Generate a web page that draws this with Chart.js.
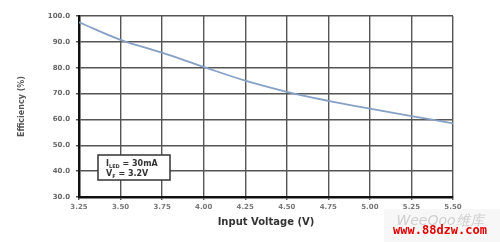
<!DOCTYPE html>
<html>
<head>
<meta charset="utf-8">
<script src="https://cdn.jsdelivr.net/npm/chart.js@4/dist/chart.umd.min.js"></script>
<style>
  html, body { margin: 0; padding: 0; background: #fff; }
  #wrap { width: 500px; height: 242px; }
</style>
</head>
<body>
<div id="wrap"><canvas id="myChart" width="500" height="242"></canvas></div>
<script>
// values
var voltage = [3.25, 3.50, 3.75, 4.00, 4.25, 4.50, 4.75, 5.00, 5.25, 5.50];
var efficiency = [97.6, 90.8, 85.8, 80.3, 75.0, 70.7, 67.2, 64.2, 61.3, 58.5];
var yTicks = [30, 40, 50, 60, 70, 80, 90, 100];
var noteLines = [["I", "LED", " = 30mA"], ["V", "F", " = 3.2V"]];

// draws the condition box and the site watermark on top of the chart
var extras = {
    id: "extras",
    afterDraw: function (chart) {
        var ctx = chart.ctx;
        ctx.save();
        ctx.fillStyle = "#fff";
        ctx.fillRect(98, 155, 72, 25);
        ctx.strokeStyle = "#333";
        ctx.lineWidth = 1.5;
        ctx.strokeRect(98, 155, 72, 25);
        ctx.fillStyle = "#333";
        ctx.textBaseline = "alphabetic";
        noteLines.forEach(function (l, i) {
            var y = 166 + i * 10;
            var x = 106;
            ctx.font = "bold 8px 'DejaVu Sans'";
            ctx.fillText(l[0], x, y);
            x += ctx.measureText(l[0]).width;
            ctx.font = "bold 5px 'DejaVu Sans'";
            ctx.fillText(l[1], x, y + 2);
            x += ctx.measureText(l[1]).width;
            ctx.font = "bold 8px 'DejaVu Sans'";
            ctx.fillText(l[2], x, y);
        });

        // watermark
        ctx.fillStyle = "rgba(246,246,246,0.9)";
        ctx.fillRect(384, 209, 116, 33);
        ctx.font = "italic 14px 'DejaVu Sans'";
        ctx.fillStyle = "#cfcfcf";
        ctx.textAlign = "center";
        ctx.fillText("WeeQoo维库", 440, 225);
        ctx.font = "bold 12px 'DejaVu Sans Mono'";
        ctx.fillStyle = "#e00000";
        ctx.fillText("www.88dzw.com", 440, 234);
        ctx.restore();
    }
};

var ctx = document.getElementById("myChart").getContext("2d");
var myChart = new Chart(ctx, {
    type: "line",
    data: {
        datasets: [{
            data: voltage.map(function (v, i) { return { x: v, y: efficiency[i] }; }),
            borderColor: "#86a0c6",
            borderWidth: 1.8,
            pointRadius: 0,
            tension: 0.4,
            fill: false
        }]
    },
    options: {
        responsive: false,
        animation: false,
        layout: { padding: { left: 17, right: 47, top: 16, bottom: 10 } },
        plugins: { legend: { display: false }, tooltip: { enabled: false } },
        scales: {
            x: {
                type: "linear",
                min: 3.25,
                max: 5.5,
                afterBuildTicks: function (scale) {
                    scale.ticks = voltage.map(function (v) { return { value: v }; });
                },
                afterFit: function (scale) { scale.height = 35; },
                ticks: {
                    color: "#777",
                    font: { family: "DejaVu Sans", size: 7, weight: "bold" },
                    padding: 3,
                    maxRotation: 0,
                    callback: function (v) { return v.toFixed(2); }
                },
                grid: { color: "#555", lineWidth: 1.4, tickLength: 3 },
                border: { color: "#111", width: 2.5 },
                title: {
                    display: true,
                    text: "Input Voltage (V)",
                    color: "#333",
                    font: { family: "DejaVu Sans", size: 10, weight: "bold" },
                    padding: { top: 6 }
                }
            },
            y: {
                min: 30,
                max: 100,
                afterBuildTicks: function (scale) {
                    scale.ticks = yTicks.map(function (v) { return { value: v }; });
                },
                afterFit: function (scale) { scale.width = 62; },
                ticks: {
                    color: "#666",
                    font: { family: "DejaVu Sans", size: 7, weight: "bold" },
                    padding: 6,
                    callback: function (v) { return v.toFixed(1); }
                },
                grid: { color: "#555", lineWidth: 1.4, tickLength: 3 },
                border: { color: "#111", width: 2.5 },
                title: {
                    display: true,
                    text: "Efficiency (%)",
                    color: "#555",
                    font: { family: "DejaVu Sans", size: 8, weight: "bold" },
                    padding: 0
                }
            }
        }
    },
    plugins: [extras]
});
</script>
</body>
</html>
